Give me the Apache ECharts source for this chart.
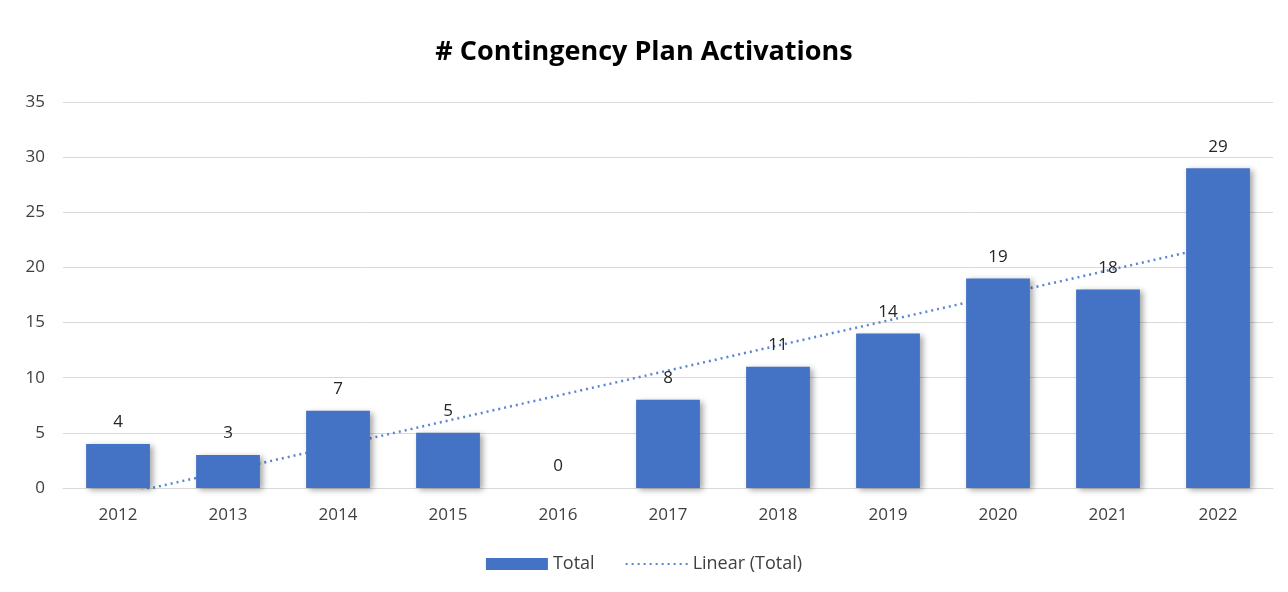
<!DOCTYPE html>
<html>
<head>
	<meta charset="utf-8">
	<title># Contingency Plan Activations</title>
	<script src="https://cdn.jsdelivr.net/npm/echarts@6/dist/echarts.min.js"></script>
	<style>
		html, body { margin: 0; padding: 0; background: #fff; }
		#chart { width: 1288px; height: 592px; }
	</style>
</head>
<body>
<div id="chart"></div>
<script>
	// values
	var years = ['2012', '2013', '2014', '2015', '2016', '2017', '2018', '2019', '2020', '2021', '2022'];
	var totals = [4, 3, 7, 5, 0, 8, 11, 14, 19, 18, 29];
	// trendline ends (first and last year)
	var trendEnds = [-0.7, 22.0];
	var yTicks = { min: 0, max: 35, step: 5 };

	var font = '"Open Sans", "Liberation Sans", sans-serif';
	var chart = echarts.init(document.getElementById('chart'));
	chart.setOption({
		animation: false,
		textStyle: { fontFamily: font },
		title: {
			text: '# Contingency Plan Activations',
			left: 'center',
			top: 34,
			textStyle: { fontSize: 27, fontWeight: 'bold', color: '#000', fontFamily: font }
		},
		legend: {
			bottom: 14,
			left: 'center',
			itemWidth: 62,
			itemHeight: 12,
			itemGap: 30,
			textStyle: { fontSize: 18, color: '#404040' },
			data: [
				{ name: 'Total', icon: 'rect' },
				{ name: 'Linear (Total)', itemStyle: { opacity: 0 } }
			]
		},
		grid: { left: 63, right: 15, top: 102, bottom: 104 },
		xAxis: {
			type: 'category',
			data: years,
			axisTick: { show: false },
			axisLine: { lineStyle: { color: '#d9d9d9' } },
			axisLabel: { color: '#404040', fontSize: 17, margin: 19 }
		},
		yAxis: {
			type: 'value',
			min: yTicks.min,
			max: yTicks.max,
			interval: yTicks.step,
			axisLabel: { color: '#404040', fontSize: 17, margin: 18 },
			splitLine: { lineStyle: { color: '#d9d9d9', width: 1 } }
		},
		series: [
			{
				name: 'Linear (Total)',
				type: 'line',
				z: 1,
				symbol: 'none',
				clip: true,
				color: '#4472C4',
				lineStyle: { color: '#5b85d0', width: 2.5, type: [2, 4] },
				data: [[0, trendEnds[0]], [years.length - 1, trendEnds[1]]]
			},
			{
				name: 'Total',
				type: 'bar',
				z: 2,
				barWidth: '58%',
				data: totals,
				itemStyle: {
					color: '#4472C4',
					shadowColor: 'rgba(0,0,0,0.35)',
					shadowBlur: 6,
					shadowOffsetX: 3,
					shadowOffsetY: 2
				},
				label: {
					show: true,
					position: 'top',
					distance: 13,
					color: '#262626',
					fontSize: 17
				}
			}
		]
	});
</script>
</body>
</html>
